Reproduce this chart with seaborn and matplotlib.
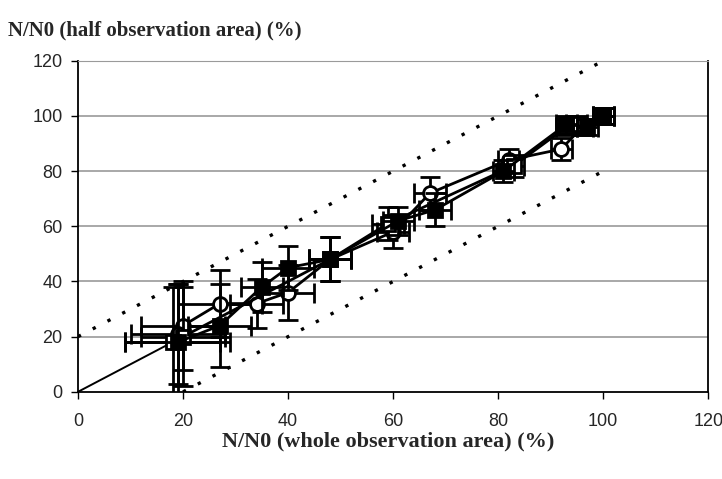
import numpy as np
import pandas as pd
import matplotlib
matplotlib.use("Agg")
import matplotlib.pyplot as plt
import seaborn as sns

# open circles
circ_x = [100, 96, 92, 82, 67, 60, 48, 40, 34, 27, 20, 19]
circ_y = [100, 96, 88, 84, 72, 58, 48, 36, 32, 32, 24, 21]
circ_xerr = [2, 2, 2, 2, 3, 3, 4, 5, 5, 8, 8, 9]
circ_yerr = [3, 3, 4, 4, 6, 6, 8, 10, 9, 12, 16, 18]

# open squares
osq_x = [100, 95, 93, 83, 59, 48, 20, 18]
osq_y = [100, 97, 96, 82, 61, 48, 20, 18]
osq_xerr = [2, 2, 2, 2, 3, 4, 8, 9]
osq_yerr = [3, 3, 3, 4, 6, 8, 18, 20]

# filled squares
fsq_x = [100, 97, 93, 81, 68, 61, 48, 40, 35, 27, 19]
fsq_y = [100, 96, 97, 80, 66, 62, 48, 45, 38, 24, 18]
fsq_xerr = [2, 2, 2, 2, 3, 3, 4, 5, 4, 6, 10]
fsq_yerr = [3, 3, 3, 4, 6, 5, 8, 8, 9, 15, 21]

ticks = [0, 20, 40, 60, 80, 100, 120]

sns.set_style("white")
plt.rcParams["font.family"] = ["Liberation Sans", "DejaVu Sans"]

fig = plt.figure(figsize=(7.22, 4.79), dpi=100)
ax = fig.add_axes([0.108, 0.182, 0.873, 0.691])

# horizontal grid
for t in ticks[1:]:
    ax.axhline(t, color="#9a9a9a", lw=1.2, zorder=0)

# 1:1 and +/-20 lines
ax.plot([0, 20], [0, 20], color="black", lw=1.4, zorder=1)
ax.plot([0, 100], [20, 120], color="black", ls=(0, (1, 4)), lw=2.4, zorder=1)
ax.plot([20, 100], [0, 80], color="black", ls=(0, (1, 4)), lw=2.4, zorder=1)

series = [
    (circ_x, circ_y, circ_xerr, circ_yerr, "o", "white", 10),
    (osq_x, osq_y, osq_xerr, osq_yerr, "s", "white", 10),
    (fsq_x, fsq_y, fsq_xerr, fsq_yerr, "s", "black", 10),
]
for i, (xs, ys, xe, ye, mk, fc, ms) in enumerate(series):
    ax.errorbar(xs, ys, xerr=xe, yerr=ye, fmt="none", ecolor="black",
                elinewidth=2, capsize=7, capthick=2, zorder=2 + 2 * i)
    df = pd.DataFrame({"x": xs, "y": ys})
    sns.lineplot(data=df, x="x", y="y", sort=False, ax=ax, color="black",
                 lw=2, marker=mk, markersize=ms, markerfacecolor=fc,
                 markeredgecolor="black", markeredgewidth=2, zorder=3 + 2 * i)

ax.set_xlim(0, 120)
ax.set_ylim(0, 120)
ax.set_xticks(ticks)
ax.set_yticks(ticks)
ax.tick_params(axis="both", labelsize=13, length=5, width=1, color="black",
               direction="out", pad=6)
ax.tick_params(axis="x", bottom=True, pad=10)
ax.tick_params(axis="y", left=True)
ax.set_xlabel("")
ax.set_ylabel("")
for s in ["left", "bottom", "right"]:
    ax.spines[s].set_color("black")
    ax.spines[s].set_linewidth(1.3)
ax.spines["top"].set_color("#9a9a9a")

fig.text(0.011, 0.937, "N/N0 (half observation area) (%)",
         family="Liberation Serif", weight="bold", fontsize=15, ha="left", va="center")
fig.text(0.537, 0.078, "N/N0 (whole observation area) (%)",
         family="Liberation Serif", weight="bold", fontsize=16, ha="center", va="center")

fig.savefig("out.png", dpi=100)
